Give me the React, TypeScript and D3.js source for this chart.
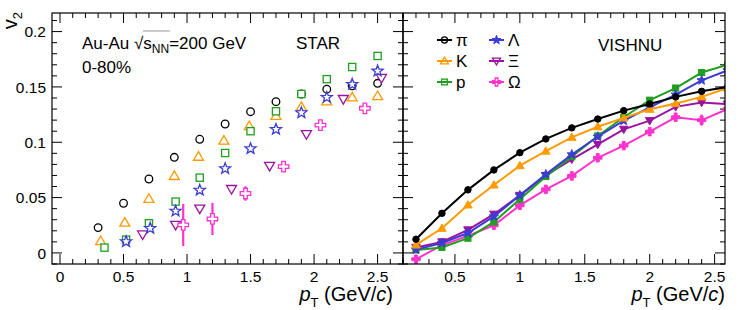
import React from "react";
import * as d3 from "d3";

// ---------- STAR data (left panel) ----------
const starPiX = [0.3, 0.5, 0.7, 0.9, 1.1, 1.3, 1.5, 1.7, 1.9, 2.1, 2.3, 2.5];
const starPiV = [0.0229, 0.0449, 0.0668, 0.0864, 0.1027, 0.1165, 0.1276, 0.1367, 0.1436, 0.148, 0.151, 0.1533];
const starKX = [0.32, 0.51, 0.7, 0.9, 1.09, 1.29, 1.49, 1.7, 1.9, 2.1, 2.3, 2.5];
const starKV = [0.0108, 0.0274, 0.049, 0.0696, 0.087, 0.1015, 0.1147, 0.124, 0.132, 0.137, 0.1406, 0.1418];
const starPX = [0.35, 0.52, 0.7, 0.91, 1.1, 1.3, 1.5, 1.7, 1.9, 2.1, 2.3, 2.5];
const starPV = [0.0048, 0.012, 0.0268, 0.0464, 0.068, 0.0903, 0.11, 0.128, 0.1436, 0.157, 0.168, 0.178];
const starLX = [0.52, 0.71, 0.91, 1.1, 1.3, 1.5, 1.7, 1.9, 2.1, 2.3, 2.5];
const starLV = [0.0102, 0.0223, 0.0378, 0.0567, 0.0762, 0.0942, 0.1117, 0.1267, 0.1406, 0.1524, 0.1644];
const starXiX = [0.65, 0.91, 1.1, 1.35, 1.65, 1.94, 2.23, 2.53];
const starXiV = [0.0166, 0.0253, 0.04, 0.0577, 0.0786, 0.1072, 0.139, 0.158];
const starOmX = [0.97, 1.2, 1.46, 1.76, 2.05, 2.4];
const starOmV = [0.0253, 0.0307, 0.0537, 0.078, 0.1155, 0.1307];
const starOmE = [0.019, 0.0145, 0.0065, 0.004, 0.004, 0.004];

// ---------- VISHNU data (right panel) ----------
const hydroX = [0.2, 0.4, 0.6, 0.8, 1.0, 1.2, 1.4, 1.6, 1.8, 2.0, 2.2, 2.4, 2.6];
const hydroPiV = [0.0124, 0.0358, 0.057, 0.075, 0.0906, 0.103, 0.113, 0.121, 0.1286, 0.1346, 0.141, 0.146, 0.15];
const hydroKV = [0.0072, 0.0223, 0.0434, 0.0614, 0.0789, 0.092, 0.1045, 0.114, 0.122, 0.1298, 0.135, 0.141, 0.149];
const hydroPV = [0.0027, 0.005, 0.0133, 0.028, 0.0485, 0.069, 0.087, 0.1057, 0.1226, 0.138, 0.149, 0.163, 0.17];
const hydroLV = [0.003, 0.009, 0.018, 0.033, 0.052, 0.071, 0.089, 0.105, 0.1195, 0.1316, 0.143, 0.156, 0.165];
const hydroXiV = [0.005, 0.01, 0.0208, 0.035, 0.052, 0.07, 0.0846, 0.098, 0.1117, 0.1195, 0.132, 0.136, 0.1345];
const hydroOmV = [-0.0057, 0.007, 0.0154, 0.025, 0.043, 0.0575, 0.0696, 0.086, 0.097, 0.1096, 0.1226, 0.12, 0.13];
const hydroOmE = [0, 0, 0, 0, 0, 0, 0, 0, 0, 0, 0.004, 0.005, 0.005];

const yTicks = [0, 0.05, 0.1, 0.15, 0.2];
const yTickLabels = ["0", "0.05", "0.1", "0.15", "0.2"];
const leftXTicks = [0, 0.5, 1, 1.5, 2, 2.5];
const leftXTickLabels = ["0", "0.5", "1", "1.5", "2", "2.5"];
const rightXTicks = [0.5, 1, 1.5, 2, 2.5];
const rightXTickLabels = ["0.5", "1", "1.5", "2", "2.5"];

const C = {
  pi: "#000000",
  k: "#ff9a00",
  p: "#1f9e1f",
  l: "#3b3bd6",
  xi: "#99139e",
  om: "#ff33cc",
};

const FONT = "Liberation Sans, Arial, Helvetica, sans-serif";

// geometry
const TOP = 13;
const BOT = 264;
const L0 = 52;
const MID = 403;
const R1 = 725;

const y = d3.scaleLinear().domain([-0.01, 0.2168]).range([BOT, TOP]);
const xL = d3.scaleLinear().domain([-0.063, 2.7]).range([L0, MID]);
const xR = d3.scaleLinear().domain([0.1, 2.58]).range([MID, R1]);

function starPath(R: number) {
  const pts: string[] = [];
  const r = R * 0.42;
  for (let i = 0; i < 10; i++) {
    const a = -Math.PI / 2 + (i * Math.PI) / 5;
    const rr = i % 2 === 0 ? R : r;
    pts.push(`${(rr * Math.cos(a)).toFixed(2)},${(rr * Math.sin(a)).toFixed(2)}`);
  }
  return "M" + pts.join("L") + "Z";
}
function crossPath(R: number, a: number) {
  const p = [
    [-a, -R], [a, -R], [a, -a], [R, -a], [R, a], [a, a], [a, R], [-a, R], [-a, a], [-R, a], [-R, -a], [-a, -a],
  ];
  return "M" + p.map((q) => q.join(",")).join("L") + "Z";
}

type Kind = "circle" | "tri" | "square" | "star" | "dtri" | "cross";

function Marker({ kind, cx, cy, color, filled, s = 1 }: { kind: Kind; cx: number; cy: number; color: string; filled: boolean; s?: number }) {
  const fill = filled ? color : "white";
  const common = { fill, stroke: color, strokeWidth: filled ? 1 : 1.3 };
  const t = `translate(${cx},${cy})`;
  switch (kind) {
    case "circle":
      return <circle cx={cx} cy={cy} r={3.8 * s} {...common} />;
    case "tri":
      return <path transform={t} d={`M0,${-5 * s}L${5 * s},${3.6 * s}L${-5 * s},${3.6 * s}Z`} {...common} />;
    case "dtri":
      return <path transform={t} d={`M0,${5 * s}L${5 * s},${-3.6 * s}L${-5 * s},${-3.6 * s}Z`} {...common} />;
    case "square":
      return <rect x={cx - 3.6 * s} y={cy - 3.6 * s} width={7.2 * s} height={7.2 * s} {...common} />;
    case "star":
      return <path transform={t} d={starPath(5.8 * s)} {...common} />;
    case "cross":
      return <path transform={t} d={crossPath(5 * s, 1.7 * s)} {...common} />;
  }
}

function Ticks({ scale, vals, side, len, from, to }: any) {
  return (
    <g stroke="black" strokeWidth={1}>
      {vals.map((v: number, i: number) => {
        const p = scale(v);
        if (side === "bottom") return <line key={i} x1={p} x2={p} y1={BOT} y2={BOT - len} />;
        if (side === "top") return <line key={i} x1={p} x2={p} y1={TOP} y2={TOP + len} />;
        if (side === "left") return <line key={i} y1={p} y2={p} x1={from} x2={from + len} />;
        return <line key={i} y1={p} y2={p} x1={to} x2={to - len} />;
      })}
    </g>
  );
}

export default function App() {
  const yMajor = yTicks;
  const yMinor = d3.range(-0.01, 0.2101, 0.01).filter((v) => Math.abs(v * 20 - Math.round(v * 20)) > 1e-6);
  const lMinor = d3.range(0, 2.701, 0.1).filter((v) => Math.abs(v * 2 - Math.round(v * 2)) > 1e-6);
  const rMinor = d3.range(0.1, 2.581, 0.1).filter((v) => Math.abs(v * 2 - Math.round(v * 2)) > 1e-6);

  const starSeries: { x: number[]; v: number[]; kind: Kind; color: string; e?: number[] }[] = [
    { x: starPiX, v: starPiV, kind: "circle", color: C.pi },
    { x: starKX, v: starKV, kind: "tri", color: C.k },
    { x: starPX, v: starPV, kind: "square", color: C.p },
    { x: starXiX, v: starXiV, kind: "dtri", color: C.xi },
    { x: starLX, v: starLV, kind: "star", color: C.l },
    { x: starOmX, v: starOmV, kind: "cross", color: C.om, e: starOmE },
  ];
  const hydroSeries: { v: number[]; kind: Kind; color: string; e?: number[] }[] = [
    { v: hydroOmV, kind: "cross", color: C.om, e: hydroOmE },
    { v: hydroXiV, kind: "dtri", color: C.xi },
    { v: hydroPV, kind: "square", color: C.p },
    { v: hydroLV, kind: "star", color: C.l },
    { v: hydroKV, kind: "tri", color: C.k },
    { v: hydroPiV, kind: "circle", color: C.pi },
  ];
  const line = d3
    .line<number>()
    .x((_, i) => xR(hydroX[i]))
    .y((d) => y(d));

  const legend: { kind: Kind; color: string; label: string; col: number; row: number; filled: boolean }[] = [
    { kind: "circle", color: C.pi, label: "π", col: 0, row: 0, filled: false },
    { kind: "tri", color: C.k, label: "K", col: 0, row: 1, filled: false },
    { kind: "square", color: C.p, label: "p", col: 0, row: 2, filled: false },
    { kind: "star", color: C.l, label: "Λ", col: 1, row: 0, filled: true },
    { kind: "dtri", color: C.xi, label: "Ξ", col: 1, row: 1, filled: false },
    { kind: "cross", color: C.om, label: "Ω", col: 1, row: 2, filled: false },
  ];

  return (
    <svg width={747} height={310} style={{ position: "absolute", left: 0, top: 0, background: "white" }} fontFamily={FONT}>
      <defs>
        <clipPath id="clipR">
          <rect x={MID} y={TOP} width={R1 - MID} height={BOT - TOP} />
        </clipPath>
        <clipPath id="clipL">
          <rect x={L0} y={TOP} width={MID - L0} height={BOT - TOP} />
        </clipPath>
      </defs>
      <rect x={0} y={0} width={747} height={310} fill="white" />

      {/* ticks left panel */}
      <Ticks scale={y} vals={yMajor} side="left" len={10} from={L0} />
      <Ticks scale={y} vals={yMinor} side="left" len={5} from={L0} />
      <Ticks scale={y} vals={yMajor} side="right" len={10} to={MID} />
      <Ticks scale={y} vals={yMinor} side="right" len={5} to={MID} />
      <Ticks scale={xL} vals={leftXTicks} side="bottom" len={10} />
      <Ticks scale={xL} vals={lMinor} side="bottom" len={5} />
      <Ticks scale={xL} vals={leftXTicks} side="top" len={10} />
      <Ticks scale={xL} vals={lMinor} side="top" len={5} />
      {/* ticks right panel */}
      <Ticks scale={y} vals={yMajor} side="left" len={10} from={MID} />
      <Ticks scale={y} vals={yMinor} side="left" len={5} from={MID} />
      <Ticks scale={y} vals={yMajor} side="right" len={10} to={R1} />
      <Ticks scale={y} vals={yMinor} side="right" len={5} to={R1} />
      <Ticks scale={xR} vals={rightXTicks} side="bottom" len={10} />
      <Ticks scale={xR} vals={rMinor} side="bottom" len={5} />
      <Ticks scale={xR} vals={rightXTicks} side="top" len={10} />
      <Ticks scale={xR} vals={rMinor} side="top" len={5} />

      {/* STAR data */}
      <g clipPath="url(#clipL)">
        {starSeries.map((s, si) => (
          <g key={si}>
            {s.e &&
              s.x.map((xv, i) => (
                <line key={"e" + i} x1={xL(xv)} x2={xL(xv)} y1={y(s.v[i] - s.e![i])} y2={y(s.v[i] + s.e![i])} stroke={s.color} strokeWidth={2.2} />
              ))}
            {s.x.map((xv, i) => (
              <Marker key={i} kind={s.kind} cx={xL(xv)} cy={y(s.v[i])} color={s.color} filled={false} s={s.kind === "cross" ? 1.05 : 1} />
            ))}
          </g>
        ))}
      </g>

      {/* VISHNU lines */}
      <g clipPath="url(#clipR)">
        {hydroSeries.map((s, si) => (
          <g key={si}>
            <path d={line(s.v) || ""} fill="none" stroke={s.color} strokeWidth={2} />
            {s.e &&
              s.v.map((v, i) =>
                s.e![i] > 0 ? (
                  <line key={"e" + i} x1={xR(hydroX[i])} x2={xR(hydroX[i])} y1={y(v - s.e![i])} y2={y(v + s.e![i])} stroke={s.color} strokeWidth={2} />
                ) : null
              )}
            {s.v.map((v, i) => (
              <Marker key={i} kind={s.kind} cx={xR(hydroX[i])} cy={y(v)} color={s.color} filled={true} s={0.85} />
            ))}
          </g>
        ))}
      </g>

      {/* frames */}
      <rect x={L0} y={TOP} width={MID - L0} height={BOT - TOP} fill="none" stroke="black" strokeWidth={1.2} />
      <rect x={MID} y={TOP} width={R1 - MID} height={BOT - TOP} fill="none" stroke="black" strokeWidth={1.2} />

      {/* y tick labels */}
      {yTicks.map((v, i) => (
        <text key={i} x={46} y={y(v)} dy="0.36em" textAnchor="end" fontSize={15.5}>
          {yTickLabels[i]}
        </text>
      ))}
      {/* x tick labels */}
      {leftXTicks.map((v, i) => (
        <text key={i} x={xL(v)} y={282} textAnchor="middle" fontSize={15.5}>
          {leftXTickLabels[i]}
        </text>
      ))}
      {rightXTicks.map((v, i) => (
        <text key={i} x={xR(v)} y={282} textAnchor="middle" fontSize={15.5}>
          {rightXTickLabels[i]}
        </text>
      ))}

      {/* axis titles */}
      <text transform="translate(17,12) rotate(-90)" textAnchor="end" fontSize={20}>
        <tspan fontStyle="normal">v</tspan>
        <tspan dy={5} fontSize={13}>2</tspan>
      </text>
      {[393, 725].map((xe, i) => (
        <text key={i} x={xe} y={301} textAnchor="end" fontSize={20}>
          <tspan fontStyle="italic">p</tspan>
          <tspan dy={6} fontSize={13}>T</tspan>
          <tspan dy={-6}> (GeV/</tspan>
          <tspan fontStyle="italic">c</tspan>
          <tspan>)</tspan>
        </text>
      ))}

      {/* annotations */}
      <text x={82} y={49} fontSize={17}>
        <tspan>Au-Au </tspan>
        <tspan>√</tspan>
        <tspan>s</tspan>
        <tspan dy={4} fontSize={12}>NN</tspan>
        <tspan dy={-4}>=200 GeV</tspan>
      </text>
      <line x1={143} x2={170} y1={31} y2={31} stroke="#aaa" strokeWidth={1.2} />
      <text x={82} y={73} fontSize={17}>0-80%</text>
      <text x={296} y={49} fontSize={17}>STAR</text>
      <text x={598} y={51} fontSize={17}>VISHNU</text>

      {/* legend */}
      {legend.map((d, i) => {
        const lx = d.col === 0 ? 437 : 489;
        const cy = 40 + d.row * 21;
        const cx = lx + 7.5;
        return (
          <g key={i}>
            <Marker kind={d.kind} cx={cx} cy={cy} color={d.color} filled={d.filled} s={0.8} />
            <line x1={lx} x2={lx + 15} y1={cy} y2={cy} stroke={d.color} strokeWidth={2} />
            <text x={lx + 19} y={cy} dy="0.36em" fontSize={17}>
              {d.label}
            </text>
          </g>
        );
      })}
    </svg>
  );
}
